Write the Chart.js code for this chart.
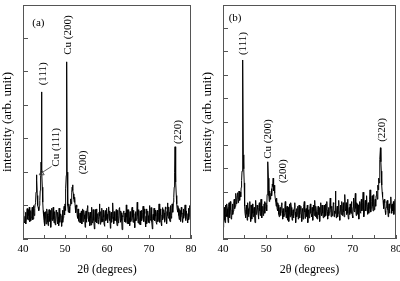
<!DOCTYPE html>
<html>
<head>
<meta charset="utf-8">
<script src="https://cdn.jsdelivr.net/npm/chart.js@4.4.1/dist/chart.umd.min.js"></script>
<style>
  html, body { margin: 0; padding: 0; background: #fff; }
  .panel { position: absolute; top: 0; width: 200px; height: 281px; }
  #panelA { left: 0; }
  #panelB { left: 200px; }
</style>
</head>
<body>
<div class="panel" id="panelA"><canvas id="chartA"></canvas></div>
<div class="panel" id="panelB"><canvas id="chartB"></canvas></div>
<script>
// 2-theta angles (degrees)
const angles = [
  40, 40.1, 40.2, 40.3, 40.4, 40.5, 40.6, 40.7, 40.8, 40.9,
  41, 41.1, 41.2, 41.3, 41.4, 41.5, 41.6, 41.7, 41.8, 41.9,
  42, 42.1, 42.2, 42.3, 42.4, 42.5, 42.6, 42.7, 42.8, 42.9,
  43, 43.1, 43.2, 43.3, 43.4, 43.5, 43.6, 43.7, 43.8, 43.9,
  44, 44.1, 44.2, 44.3, 44.4, 44.5, 44.6, 44.7, 44.8, 44.9,
  45, 45.1, 45.2, 45.3, 45.4, 45.5, 45.6, 45.7, 45.8, 45.9,
  46, 46.1, 46.2, 46.3, 46.4, 46.5, 46.6, 46.7, 46.8, 46.9,
  47, 47.1, 47.2, 47.3, 47.4, 47.5, 47.6, 47.7, 47.8, 47.9,
  48, 48.1, 48.2, 48.3, 48.4, 48.5, 48.6, 48.7, 48.8, 48.9,
  49, 49.1, 49.2, 49.3, 49.4, 49.5, 49.6, 49.7, 49.8, 49.9,
  50, 50.1, 50.2, 50.3, 50.4, 50.5, 50.6, 50.7, 50.8, 50.9,
  51, 51.1, 51.2, 51.3, 51.4, 51.5, 51.6, 51.7, 51.8, 51.9,
  52, 52.1, 52.2, 52.3, 52.4, 52.5, 52.6, 52.7, 52.8, 52.9,
  53, 53.1, 53.2, 53.3, 53.4, 53.5, 53.6, 53.7, 53.8, 53.9,
  54, 54.1, 54.2, 54.3, 54.4, 54.5, 54.6, 54.7, 54.8, 54.9,
  55, 55.1, 55.2, 55.3, 55.4, 55.5, 55.6, 55.7, 55.8, 55.9,
  56, 56.1, 56.2, 56.3, 56.4, 56.5, 56.6, 56.7, 56.8, 56.9,
  57, 57.1, 57.2, 57.3, 57.4, 57.5, 57.6, 57.7, 57.8, 57.9,
  58, 58.1, 58.2, 58.3, 58.4, 58.5, 58.6, 58.7, 58.8, 58.9,
  59, 59.1, 59.2, 59.3, 59.4, 59.5, 59.6, 59.7, 59.8, 59.9,
  60, 60.1, 60.2, 60.3, 60.4, 60.5, 60.6, 60.7, 60.8, 60.9,
  61, 61.1, 61.2, 61.3, 61.4, 61.5, 61.6, 61.7, 61.8, 61.9,
  62, 62.1, 62.2, 62.3, 62.4, 62.5, 62.6, 62.7, 62.8, 62.9,
  63, 63.1, 63.2, 63.3, 63.4, 63.5, 63.6, 63.7, 63.8, 63.9,
  64, 64.1, 64.2, 64.3, 64.4, 64.5, 64.6, 64.7, 64.8, 64.9,
  65, 65.1, 65.2, 65.3, 65.4, 65.5, 65.6, 65.7, 65.8, 65.9,
  66, 66.1, 66.2, 66.3, 66.4, 66.5, 66.6, 66.7, 66.8, 66.9,
  67, 67.1, 67.2, 67.3, 67.4, 67.5, 67.6, 67.7, 67.8, 67.9,
  68, 68.1, 68.2, 68.3, 68.4, 68.5, 68.6, 68.7, 68.8, 68.9,
  69, 69.1, 69.2, 69.3, 69.4, 69.5, 69.6, 69.7, 69.8, 69.9,
  70, 70.1, 70.2, 70.3, 70.4, 70.5, 70.6, 70.7, 70.8, 70.9,
  71, 71.1, 71.2, 71.3, 71.4, 71.5, 71.6, 71.7, 71.8, 71.9,
  72, 72.1, 72.2, 72.3, 72.4, 72.5, 72.6, 72.7, 72.8, 72.9,
  73, 73.1, 73.2, 73.3, 73.4, 73.5, 73.6, 73.7, 73.8, 73.9,
  74, 74.1, 74.2, 74.3, 74.4, 74.5, 74.6, 74.7, 74.8, 74.9,
  75, 75.1, 75.2, 75.3, 75.4, 75.5, 75.6, 75.7, 75.8, 75.9,
  76, 76.1, 76.2, 76.3, 76.4, 76.5, 76.6, 76.7, 76.8, 76.9,
  77, 77.1, 77.2, 77.3, 77.4, 77.5, 77.6, 77.7, 77.8, 77.9,
  78, 78.1, 78.2, 78.3, 78.4, 78.5, 78.6, 78.7, 78.8, 78.9,
  79, 79.1, 79.2, 79.3, 79.4, 79.5, 79.6, 79.7, 79.8, 79.9,
  80
];

// panel (a) intensity, arb. unit
const intensityA = [
  0.55, 0.85, 0.72, 0.50, 0.48, 0.68, 0.80, 0.45, 0.62, 0.78,
  0.91, 0.60, 0.57, 0.88, 0.70, 0.95, 0.52, 0.62, 0.85, 0.55,
  0.66, 0.82, 0.95, 0.58, 0.60, 1.00, 0.78, 0.70, 0.92, 1.05,
  1.10, 1.40, 1.92, 1.75, 1.30, 1.00, 0.95, 0.88, 0.85, 1.00,
  1.15, 1.45, 1.90, 2.30, 4.40, 2.00, 1.55, 1.10, 0.85, 0.70,
  0.55, 0.80, 0.40, 0.62, 0.82, 0.45, 0.58, 0.90, 0.75, 0.50,
  0.40, 0.70, 0.88, 0.52, 0.62, 0.85, 0.35, 0.60, 0.78, 0.92,
  0.55, 0.78, 0.95, 0.60, 0.48, 0.82, 0.70, 0.42, 0.60, 0.86,
  0.82, 0.58, 0.45, 0.80, 0.66, 0.40, 0.92, 0.68, 0.50, 0.75,
  0.74, 0.55, 0.38, 0.70, 0.86, 0.50, 0.64, 0.88, 0.98, 0.72,
  1.05, 0.85, 1.50, 1.90, 5.30, 2.00, 1.40, 1.00, 0.80, 1.05,
  0.95, 0.78, 1.00, 1.20, 1.15, 1.05, 1.40, 1.55, 1.62, 1.45,
  1.35, 1.20, 1.10, 1.25, 1.00, 0.78, 0.80, 1.02, 0.95, 0.70,
  0.62, 0.90, 0.85, 0.55, 0.50, 0.72, 0.78, 0.48, 0.66, 0.84,
  0.45, 0.70, 0.90, 0.52, 0.58, 0.86, 0.72, 0.60, 0.35, 0.75,
  0.84, 0.50, 0.60, 0.92, 1.00, 0.66, 0.52, 0.80, 0.68, 0.40,
  0.80, 0.62, 0.42, 0.74, 0.95, 0.48, 0.56, 0.88, 0.70, 0.55,
  0.30, 0.66, 0.88, 0.52, 0.64, 0.90, 0.48, 0.70, 0.76, 0.45,
  0.58, 0.80, 1.05, 0.68, 0.44, 0.82, 0.70, 0.50, 0.92, 0.60,
  0.52, 0.86, 0.66, 0.45, 0.38, 0.72, 0.85, 0.55, 0.60, 0.92,
  0.74, 0.58, 0.48, 0.80, 0.96, 0.62, 0.55, 0.84, 0.32, 0.70,
  0.80, 0.50, 0.62, 0.90, 1.08, 0.66, 0.46, 0.82, 0.72, 0.55,
  0.56, 0.75, 0.88, 0.52, 0.40, 0.86, 0.70, 0.48, 0.60, 0.92,
  0.94, 0.62, 0.50, 0.84, 0.78, 0.55, 0.28, 0.70, 0.66, 0.80,
  0.84, 0.60, 0.52, 0.78, 0.70, 0.50, 1.02, 0.66, 0.46, 0.88,
  0.62, 0.45, 0.88, 0.64, 0.40, 0.82, 0.74, 0.52, 0.58, 0.90,
  0.95, 0.66, 0.50, 0.86, 0.68, 0.58, 0.34, 0.76, 0.82, 0.54,
  0.60, 0.78, 1.10, 0.70, 0.48, 0.88, 0.72, 0.44, 0.56, 0.84,
  0.42, 0.70, 0.86, 0.55, 0.64, 0.80, 0.98, 0.62, 0.52, 0.90,
  0.76, 0.54, 0.36, 0.68, 0.90, 0.46, 0.58, 0.84, 0.70, 0.50,
  0.48, 0.82, 1.00, 0.56, 0.62, 0.94, 0.80, 0.52, 0.30, 0.66,
  0.74, 0.58, 0.92, 0.70, 0.54, 0.86, 0.68, 0.50, 0.44, 0.78,
  0.86, 0.52, 0.60, 0.80, 1.05, 0.68, 0.50, 0.90, 0.72, 0.46,
  0.40, 0.72, 0.94, 0.58, 0.64, 0.88, 0.78, 0.50, 0.55, 0.96,
  0.90, 0.64, 0.46, 0.82, 1.08, 0.70, 0.62, 0.96, 0.80, 0.58,
  0.52, 0.85, 1.00, 0.62, 0.70, 1.05, 0.95, 0.80, 1.10, 1.25,
  1.55, 2.00, 2.76, 2.20, 1.70, 1.30, 1.05, 0.90, 0.80, 1.00,
  0.92, 0.70, 0.58, 0.88, 0.85, 0.52, 0.66, 0.95, 0.74, 0.60,
  0.50, 0.78, 0.90, 0.62, 0.72, 0.88, 1.02, 0.55, 0.60, 0.84,
  0.84, 0.60, 0.48, 0.76, 0.92, 0.58, 0.70, 1.00, 0.86, 0.62,
  0.68
];

// panel (b) intensity, arb. unit
const intensityB = [
  0.50, 0.85, 1.10, 1.35, 0.80, 0.70, 1.45, 1.20, 0.95, 1.50,
  1.30, 0.95, 0.70, 1.40, 1.55, 0.90, 1.05, 1.60, 1.25, 0.85,
  0.90, 1.25, 1.50, 1.05, 1.20, 1.60, 1.70, 1.30, 1.40, 1.75,
  1.95, 1.50, 1.60, 1.85, 1.98, 1.55, 1.70, 2.05, 1.85, 1.65,
  2.00, 1.80, 2.20, 2.50, 2.90, 4.00, 7.65, 3.60, 3.00, 2.40,
  1.40, 1.10, 0.90, 1.25, 1.45, 1.05, 0.80, 1.55, 1.30, 0.95,
  1.05, 1.35, 1.60, 0.95, 0.75, 1.45, 1.25, 0.85, 1.50, 1.10,
  0.95, 1.20, 1.35, 1.00, 0.70, 1.30, 1.65, 1.05, 1.10, 1.45,
  1.30, 1.10, 0.85, 1.35, 1.55, 1.20, 1.00, 1.45, 1.70, 0.95,
  0.90, 1.25, 1.40, 1.00, 1.15, 1.50, 1.60, 1.10, 1.35, 1.55,
  1.45, 1.20, 1.90, 2.30, 3.30, 2.60, 1.85, 1.60, 2.05, 1.75,
  1.70, 1.95, 2.15, 1.85, 2.35, 2.25, 2.60, 2.05, 2.30, 2.10,
  1.95, 1.70, 1.60, 1.40, 1.75, 1.30, 1.20, 1.55, 1.45, 1.05,
  0.95, 1.25, 1.35, 1.00, 1.10, 1.45, 1.55, 1.20, 0.85, 1.30,
  1.30, 0.95, 1.05, 1.40, 1.60, 1.15, 0.90, 1.25, 1.40, 0.80,
  1.15, 1.35, 0.75, 1.05, 1.50, 0.95, 1.20, 1.55, 1.35, 1.00,
  0.80, 1.10, 1.25, 0.90, 1.00, 1.35, 1.55, 1.15, 0.70, 1.05,
  1.30, 0.95, 1.10, 1.40, 0.85, 1.20, 1.45, 0.90, 1.05, 1.30,
  1.40, 1.05, 0.75, 1.30, 1.20, 0.85, 0.95, 1.40, 1.60, 1.15,
  0.88, 1.20, 1.30, 0.95, 1.10, 1.45, 0.70, 1.05, 1.25, 0.90,
  0.90, 1.30, 1.50, 1.10, 1.05, 0.95, 1.35, 1.20, 0.80, 1.45,
  1.20, 1.00, 1.65, 1.30, 0.95, 1.40, 1.15, 0.90, 0.85, 1.25,
  1.40, 1.05, 1.10, 1.35, 0.75, 1.20, 1.55, 1.10, 1.00, 1.45,
  1.30, 1.10, 0.90, 1.25, 1.45, 0.95, 1.20, 1.50, 1.00, 1.30,
  1.60, 1.15, 0.85, 1.25, 1.35, 1.00, 1.15, 1.45, 1.75, 1.30,
  0.95, 1.40, 1.30, 1.00, 1.05, 1.55, 1.50, 0.95, 1.20, 1.10,
  2.05, 1.35, 0.90, 1.20, 1.40, 0.95, 1.10, 1.50, 1.65, 1.00,
  0.80, 1.20, 1.45, 1.05, 1.25, 1.60, 1.00, 1.30, 1.55, 1.15,
  0.95, 1.40, 1.90, 1.30, 1.20, 1.55, 1.05, 1.45, 1.70, 1.10,
  0.85, 1.25, 1.35, 1.05, 1.50, 1.15, 1.10, 1.60, 1.40, 1.00,
  0.90, 1.35, 1.75, 1.20, 1.15, 1.50, 1.95, 1.30, 1.00, 1.55,
  1.50, 1.05, 1.25, 1.45, 0.85, 1.30, 1.60, 1.15, 1.10, 1.50,
  1.70, 1.20, 1.30, 1.55, 2.00, 1.35, 0.95, 1.25, 1.45, 1.65,
  1.20, 1.50, 1.85, 1.35, 1.05, 1.40, 1.55, 1.10, 1.30, 1.70,
  2.10, 1.45, 1.15, 1.35, 1.60, 1.85, 1.40, 1.20, 1.90, 1.55,
  1.25, 1.60, 1.70, 1.40, 1.85, 2.05, 1.95, 1.70, 2.30, 2.10,
  2.60, 2.40, 3.10, 3.40, 3.90, 3.30, 2.90, 2.30, 2.00, 1.80,
  1.65, 1.45, 1.30, 1.70, 1.55, 1.20, 1.05, 1.35, 1.40, 1.60,
  1.65, 1.25, 0.95, 1.30, 1.50, 1.10, 1.30, 1.55, 1.80, 1.45,
  1.10, 1.50, 1.45, 1.20, 1.60, 1.05, 1.25, 1.55, 1.70, 1.35,
  1.40
];

// peak labels, placed in data coordinates (angle, intensity)
const peakLabelsA = [
  { text: '(a)', x: 43.65, y: 6.46, vertical: false },
  { text: 'Cu (200)', x: 50.8, y: 6.1, vertical: true },
  { text: '(111)', x: 44.8, y: 4.94, vertical: true },
  { text: 'Cu (111)', x: 47.8, y: 2.74, vertical: true },
  { text: '(200)', x: 54.4, y: 2.29, vertical: true },
  { text: '(220)', x: 76.9, y: 3.2, vertical: true }
];
const leaderA = [[46.8, 2.17], [44.45, 1.98]];

const peakLabelsB = [
  { text: '(b)', x: 42.8, y: 9.44, vertical: false },
  { text: '(111)', x: 44.6, y: 8.35, vertical: true },
  { text: 'Cu (200)', x: 50.47, y: 4.27, vertical: true },
  { text: '(200)', x: 53.9, y: 2.9, vertical: true },
  { text: '(220)', x: 76.9, y: 4.66, vertical: true }
];

const serif = '"Liberation Serif", "DejaVu Serif", serif';
const frameColor = '#555';

const framePlugin = {
  id: 'frame',
  afterDraw(chart) {
    const a = chart.chartArea;
    const ctx = chart.ctx;
    ctx.save();
    ctx.strokeStyle = frameColor;
    ctx.lineWidth = 1;
    ctx.strokeRect(Math.round(a.left) + 0.5, Math.round(a.top) + 0.5,
      Math.round(a.right - a.left) - 1, Math.round(a.bottom - a.top) - 1);
    ctx.restore();
  }
};

const peakLabelPlugin = {
  id: 'peakLabels',
  afterDraw(chart, args, opts) {
    const ctx = chart.ctx;
    const xs = chart.scales.x, ys = chart.scales.y;
    ctx.save();
    ctx.fillStyle = '#000';
    ctx.font = '11px ' + serif;
    ctx.textAlign = 'center';
    ctx.textBaseline = 'middle';
    (opts.items || []).forEach(l => {
      const px = xs.getPixelForValue(l.x);
      const py = ys.getPixelForValue(l.y);
      ctx.save();
      ctx.translate(px, py);
      if (l.vertical) ctx.rotate(-Math.PI / 2);
      ctx.fillText(l.text, 0, 0);
      ctx.restore();
    });
    if (opts.leader) {
      const p0 = opts.leader[0], p1 = opts.leader[1];
      const x0 = xs.getPixelForValue(p0[0]), y0 = ys.getPixelForValue(p0[1]);
      const x1 = xs.getPixelForValue(p1[0]), y1 = ys.getPixelForValue(p1[1]);
      ctx.strokeStyle = '#333';
      ctx.lineWidth = 0.8;
      ctx.beginPath();
      ctx.moveTo(x0, y0);
      ctx.lineTo(x1, y1);
      ctx.stroke();
      // little open arrow head
      ctx.beginPath();
      ctx.moveTo(x1 - 2.5, y1 + 2);
      ctx.lineTo(x1, y1 - 2.5);
      ctx.lineTo(x1 + 2.5, y1 + 2);
      ctx.closePath();
      ctx.stroke();
    }
    ctx.restore();
  }
};

function makeChart(id, values, yMax, labels, leader, padRight) {
  const points = angles.map((a, i) => ({ x: a, y: values[i] }));
  return new Chart(document.getElementById(id), {
    type: 'line',
    data: {
      datasets: [{
        data: points,
        borderColor: '#000',
        borderWidth: 1,
        pointRadius: 0,
        tension: 0,
        fill: false
      }]
    },
    options: {
      responsive: true,
      maintainAspectRatio: false,
      animation: false,
      events: [],
      layout: { padding: { top: 5, right: padRight, bottom: 0, left: 0 } },
      plugins: {
        legend: { display: false },
        tooltip: { enabled: false },
        peakLabels: { items: labels, leader: leader }
      },
      scales: {
        x: {
          type: 'linear',
          min: 40,
          max: 80,
          border: { display: false },
          grid: { drawOnChartArea: false, tickLength: -4, color: frameColor },
          ticks: {
            stepSize: 5,
            padding: 8,
            maxRotation: 0,
            color: '#000',
            font: { family: serif, size: 11 },
            callback: v => (v % 10 === 0 ? String(v) : '')
          },
          title: {
            display: true,
            text: '2θ (degrees)',
            color: '#000',
            font: { family: serif, size: 12 },
            padding: { top: 0, bottom: 4 }
          },
          afterFit(s) { s.height = 42; s.paddingLeft = 0; s.paddingRight = 0; }
        },
        y: {
          min: 0,
          max: yMax,
          border: { display: false },
          grid: { drawOnChartArea: false, tickLength: -5, color: frameColor },
          ticks: { display: false, stepSize: 1 },
          title: {
            display: true,
            text: 'intensity (arb. unit)',
            color: '#000',
            font: { family: serif, size: 13 },
            padding: { top: 0, bottom: 0 }
          },
          afterFit(s) { s.width = 23; s.paddingTop = 0; s.paddingBottom = 0; }
        }
      }
    },
    plugins: [framePlugin, peakLabelPlugin]
  });
}

makeChart('chartA', intensityA, 7, peakLabelsA, leaderA, 9);
makeChart('chartB', intensityB, 10, peakLabelsB, null, 4);
</script>
</body>
</html>
